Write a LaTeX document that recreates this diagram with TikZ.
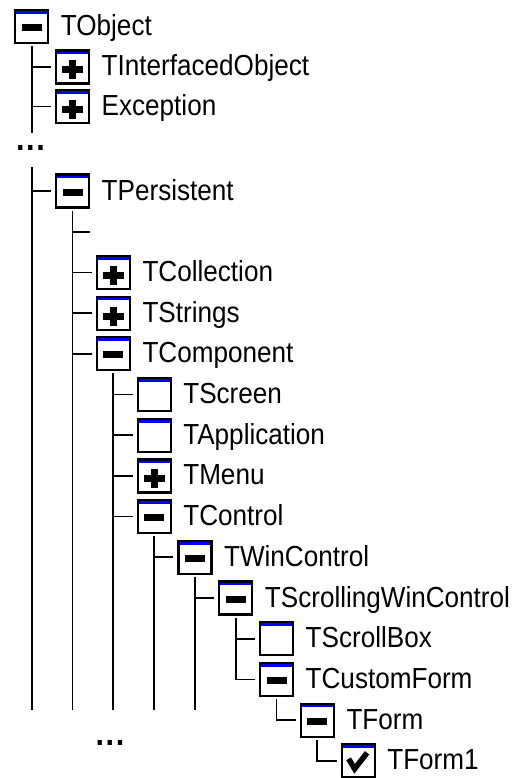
\documentclass[tikz,border=0pt]{standalone}
\usepackage{fontspec}
\setmainfont{Liberation Sans}[FakeStretch=0.9]
\newcommand\titem[5]{%
  \node[tbox,#4] (#1) at (#2,#3) {};
  \node[lbl] (#1-t) at ([xshift=12.5pt,yshift=-9pt]#1.east) {#5};}
\newcommand\tboxstripe{\fill[blue] ([yshift=-1pt]path picture bounding box.north west)
      rectangle ([yshift=-3.8pt]path picture bounding box.north east);}
\begin{document}
\begin{tikzpicture}[x=1pt,y=-1pt,
  tbox/.style={draw=black, line width=2.2pt, fill=white, minimum size=33pt,
    inner sep=0pt, outer sep=0pt, path picture={\tboxstripe}},
  minus/.style={path picture={\tboxstripe
    \fill[black] ([xshift=-10pt,yshift=2.5pt]path picture bounding box.center)
      rectangle ([xshift=10pt,yshift=-4.5pt]path picture bounding box.center);}},
  plus/.style={path picture={\tboxstripe
    \fill[black] ([xshift=-10.5pt,yshift=0.5pt]path picture bounding box.center)
      rectangle ([xshift=10.5pt,yshift=-6.5pt]path picture bounding box.center);
    \fill[black] ([xshift=-3.5pt,yshift=6.5pt]path picture bounding box.center)
      rectangle ([xshift=3.5pt,yshift=-12.5pt]path picture bounding box.center);}},
  empty/.style={},
  checked/.style={path picture={\tboxstripe
    \draw[black,line width=5.5pt,line join=miter]
      ([xshift=-9.5pt,yshift=2pt]path picture bounding box.center) --
      ([xshift=-3.5pt,yshift=-8pt]path picture bounding box.center) --
      ([xshift=9pt,yshift=8pt]path picture bounding box.center);}},
  lbl/.style={anchor=base west, inner sep=0pt, font=\fontsize{29pt}{29pt}\selectfont},
  dotsf/.style={inner sep=0pt, anchor=base, font=\fontsize{34pt}{34pt}\bfseries},
  tline/.style={draw=black, line width=1.7pt},
  stub/.style={tline, shorten >=5pt}
]
\fill[white] (0,0) rectangle (515,778);
\useasboundingbox (0,0) rectangle (515,778);

\titem{tobject}{31.7}{26.5}{minus}{TObject}
\titem{tio}{72.5}{67}{plus}{TInterfacedObject}
\titem{exc}{72.5}{106.5}{plus}{Exception}
\node[dotsf] (dtop) at (30.5,151) {.\kern1.6pt.\kern1.6pt.};
\titem{tpers}{72.5}{191}{minus}{TPersistent}
\coordinate (blank) at (90,231.7);
\titem{tcoll}{113.3}{272.4}{plus}{TCollection}
\titem{tstr}{113.3}{313.1}{plus}{TStrings}
\titem{tcomp}{113.3}{353.8}{minus}{TComponent}
\titem{tscreen}{154.1}{394.5}{empty}{TScreen}
\titem{tapp}{154.1}{435.2}{empty}{TApplication}
\titem{tmenu}{154.1}{475.9}{plus}{TMenu}
\titem{tctrl}{154.1}{516.6}{minus}{TControl}
\titem{twc}{194.9}{557.3}{minus}{TWinControl}
\titem{tswc}{235.7}{598}{minus}{TScrollingWinControl}
\titem{tsb}{276.5}{638.7}{empty}{TScrollBox}
\titem{tcf}{276.5}{679.4}{minus}{TCustomForm}
\titem{tform}{317.3}{720.1}{minus}{TForm}
\titem{tform1}{358.1}{760.8}{checked}{TForm1}
\node[dotsf] (dbot) at (110,745.5) {.\kern1.6pt.\kern1.6pt.};

% level 0
\coordinate (l0a) at (31.7,133);
\coordinate (l0b) at (31.7,167);
\coordinate (l0e) at (31.7,710);
\draw[tline] ([yshift=-3pt]tobject.south) -- (l0a);
\draw[stub] (tobject |- tio) -- (tio);
\draw[stub] (tobject |- exc) -- (exc);
\draw[tline] (l0b) -- (l0e);
\draw[stub] (tobject |- tpers) -- (tpers);
% level 1
\coordinate (l1e) at (72.5,710);
\draw[tline] ([yshift=-3pt]tpers.south) -- (l1e);
\draw[tline] (tpers |- blank) -- (blank);
\draw[stub] (tpers |- tcoll) -- (tcoll);
\draw[stub] (tpers |- tstr) -- (tstr);
\draw[stub] (tpers |- tcomp) -- (tcomp);
% level 2
\coordinate (l2e) at (113.3,710);
\draw[tline] ([yshift=-3pt]tcomp.south) -- (l2e);
\draw[stub] (tcomp |- tscreen) -- (tscreen);
\draw[stub] (tcomp |- tapp) -- (tapp);
\draw[stub] (tcomp |- tmenu) -- (tmenu);
\draw[stub] (tcomp |- tctrl) -- (tctrl);
% level 3
\coordinate (l3e) at (154.1,710);
\draw[tline] ([yshift=-3pt]tctrl.south) -- (l3e);
\draw[stub] (tctrl |- twc) -- (twc);
% level 4
\coordinate (l4e) at (194.9,710);
\draw[tline] ([yshift=-3pt]twc.south) -- (l4e);
\draw[stub] (twc |- tswc) -- (tswc);
% level 5
\draw[stub] ([yshift=-3pt]tswc.south) |- (tcf);
\draw[stub] (tswc |- tsb) -- (tsb);
% level 6
\draw[stub] ([yshift=-3pt]tcf.south) |- (tform);
% level 7
\draw[stub] ([yshift=-3pt]tform.south) |- (tform1);
\end{tikzpicture}
\end{document}
